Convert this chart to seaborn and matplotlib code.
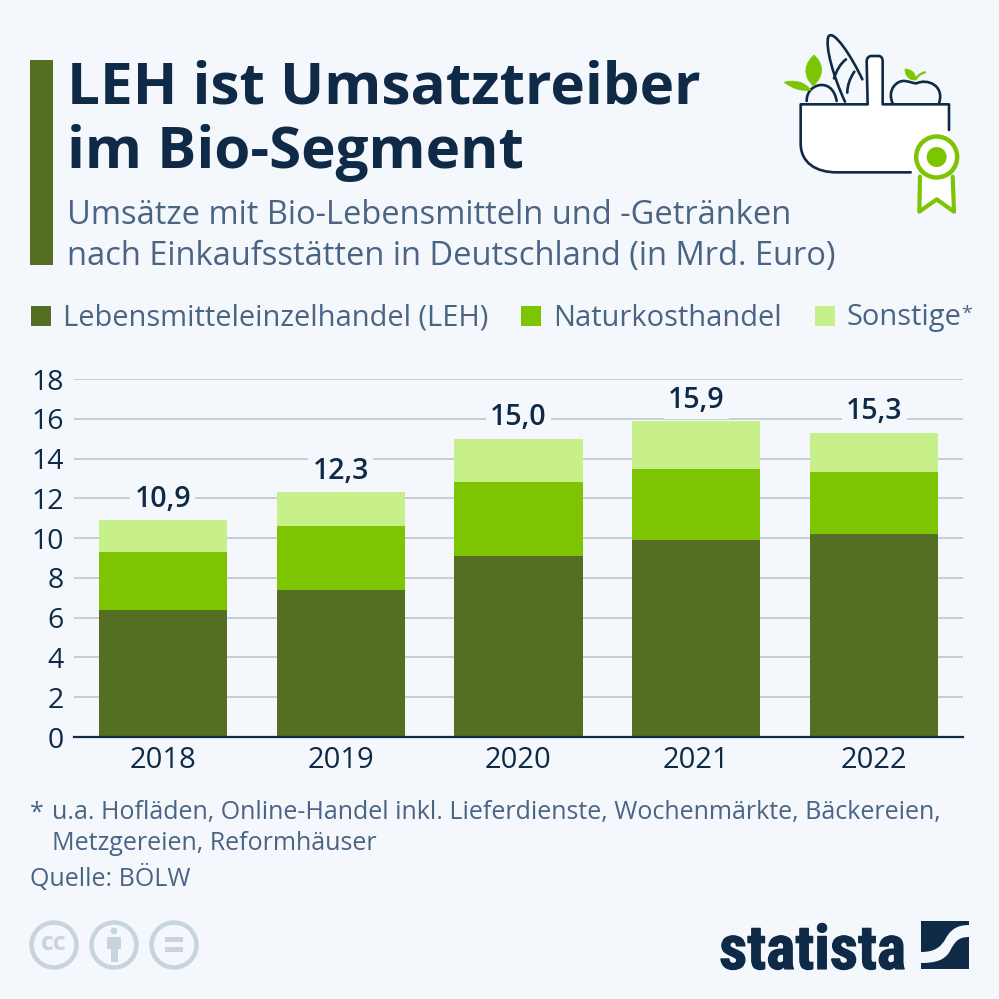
import numpy as np
import pandas as pd
import seaborn as sns
import matplotlib.pyplot as plt
import matplotlib.patheffects as pe
from matplotlib.patches import Circle, PathPatch, Rectangle
from matplotlib.path import Path

years = ["2018", "2019", "2020", "2021", "2022"]
leh = [6.4, 7.4, 9.1, 9.9, 10.2]
natur = [2.9, 3.2, 3.7, 3.6, 3.1]
sonstige = [1.6, 1.7, 2.2, 2.4, 2.0]
totals = [10.9, 12.3, 15.0, 15.9, 15.3]
total_labels = ["10,9", "12,3", "15,0", "15,9", "15,3"]
y_ticks = [0, 2, 4, 6, 8, 10, 12, 14, 16, 18]

BG = "#f4f7fb"
NAVY = "#0f2a47"
SLATE = "#4a6484"
DARK = "#546e24"
MID = "#7dc503"
LIGHT = "#c8f08a"
GRID = "#c6cdd5"
CCGREY = "#c8d4dc"

sns.set_theme(style="white")
plt.rcParams["font.family"] = ["Open Sans", "DejaVu Sans"]

fig = plt.figure(figsize=(9.99, 9.99), dpi=100, facecolor=BG)
ax = fig.add_axes([74 / 999, 1 - 737 / 999, 889 / 999, 358 / 999], facecolor=BG)

df = pd.DataFrame({"year": years, "leh": leh, "natur": natur, "sonstige": sonstige})
bottom = np.zeros(len(df))
for col, colour in [("leh", DARK), ("natur", MID), ("sonstige", LIGHT)]:
    sns.barplot(data=df, x="year", y=col, bottom=bottom, color=colour, width=0.72,
                saturation=1, linewidth=0, edgecolor="none", ax=ax, zorder=3)
    bottom = bottom + df[col].values

ax.set_xlim(-0.5, 4.5)
ax.set_ylim(0, 18)
ax.set_yticks(y_ticks)
ax.set_xlabel("")
ax.set_ylabel("")
ax.grid(axis="y", color=GRID, lw=1.4, zorder=0)
ax.set_axisbelow(True)
sns.despine(ax=ax, left=True, top=True, right=True)
ax.spines["bottom"].set_color(NAVY)
ax.spines["bottom"].set_linewidth(1.6)
ax.spines["bottom"].set_zorder(5)
ax.tick_params(axis="x", length=0, pad=6.5, labelsize=21, labelcolor=NAVY)
ax.tick_params(axis="y", length=0, pad=7.5, labelsize=20.5, labelcolor=NAVY)

# label boxes sit under the bars, they only have to break the grid lines
for i, (t, s) in enumerate(zip(totals, total_labels)):
    ax.annotate(s, (i, t), xytext=(0, 4.5), textcoords="offset points", ha="center", va="bottom",
                fontsize=20.5, fontweight="semibold", color=NAVY, zorder=2,
                bbox=dict(fc=BG, ec="none", pad=3))

# everything around the chart in pixel coordinates
ov = fig.add_axes([0, 0, 1, 1], zorder=10)
ov.set_xlim(0, 999)
ov.set_ylim(999, 0)
ov.axis("off")
ov.patch.set_alpha(0)

ov.add_patch(Rectangle((30, 60), 23, 205, fc=DARK, ec="none"))
ov.text(67, 88, "LEH ist Umsatztreiber", fontsize=42, fontweight="bold", color=NAVY, va="center")
ov.text(67, 153, "im Bio-Segment", fontsize=42, fontweight="bold", color=NAVY, va="center")
ov.text(67, 215.5, "Umsätze mit Bio-Lebensmitteln und -Getränken", fontsize=23.5, color=SLATE, va="center")
ov.text(67, 256.5, "nach Einkaufsstätten in Deutschland (in Mrd. Euro)", fontsize=23.5, color=SLATE, va="center")

# legend
for x, colour, label in [(31, DARK, "Lebensmitteleinzelhandel (LEH)"),
                         (521, MID, "Naturkosthandel"),
                         (815, LIGHT, "Sonstige")]:
    ov.add_patch(Rectangle((x, 306), 20, 20, fc=colour, ec="none"))
    ov.text(x + 32, 318, label, fontsize=20.9, color=SLATE, va="center")
ov.text(961, 314, "*", fontsize=14, color=SLATE, va="center")

# footnotes
ov.text(30, 813, "*", fontsize=18, color=SLATE, va="center")
ov.text(52, 813, "u.a. Hofläden, Online-Handel inkl. Lieferdienste, Wochenmärkte, Bäckereien,",
        fontsize=18, color=SLATE, va="center")
ov.text(52, 844, "Metzgereien, Reformhäuser", fontsize=18, color=SLATE, va="center")
ov.text(30, 878, "Quelle: BÖLW", fontsize=18, color=SLATE, va="center")


# basket icon, points taken from a 3x crop starting at (770, 20)
def z(x, y):
    return 770 + x / 3, 20 + y / 3


def curve(points, codes, fc="none", ec=NAVY, lw=1.9):
    path = Path([z(*p) for p in points], codes)
    ov.add_patch(PathPatch(path, fc=fc, ec=ec, lw=lw, capstyle="round", joinstyle="round"))


M, L, C = Path.MOVETO, Path.LINETO, Path.CURVE4
# white body first, then its outline
curve([(537, 253), (92, 253), (92, 370), (92, 430), (140, 457), (200, 457), (537, 457), (537, 253)],
      [M, L, L, C, C, C, L, L], fc="white", ec="none", lw=0)
curve([(290, 253), (290, 125), (290, 112), (298, 108), (305, 108), (325, 108),
       (332, 108), (338, 112), (338, 125), (338, 253)],
      [M, L, C, C, C, L, C, C, C, L], fc="white", ec="none", lw=0)
curve([(537, 330), (537, 253), (338, 253), (338, 125), (338, 112), (332, 108), (325, 108), (305, 108),
       (298, 108), (290, 112), (290, 125), (293, 253), (92, 253), (92, 370), (92, 430), (140, 457),
       (200, 457), (422, 457)],
      [M, L, L, L, C, C, C, L, C, C, C, L, L, L, C, C, C, L])
# bun
curve([(110, 243), (110, 210), (135, 195), (155, 195), (180, 195), (195, 215), (200, 243)],
      [M, C, C, C, C, C, C])
# baguette
curve([(225, 245), (190, 170), (165, 80), (175, 50), (190, 25), (245, 110), (277, 178)],
      [M, C, C, C, C, C, C])
curve([(192, 175), (200, 150), (212, 130), (228, 118)], [M, C, C, C])
curve([(232, 218), (232, 195), (240, 175), (253, 155)], [M, C, C, C])
# apple
curve([(368, 250), (350, 210), (380, 180), (405, 183), (420, 185), (430, 190), (440, 190),
       (470, 175), (525, 195), (507, 250)],
      [M, C, C, C, C, C, C, C, C, C])
# leaves
curve([(130, 198), (95, 165), (105, 130), (132, 105), (160, 130), (165, 165), (130, 198)],
      [M, C, C, C, C, C, C], fc=MID, ec=MID, lw=0.5)
curve([(122, 210), (95, 215), (65, 205), (43, 187), (70, 178), (105, 185), (122, 210)],
      [M, C, C, C, C, C, C], fc=MID, ec=MID, lw=0.5)
curve([(435, 180), (415, 180), (405, 165), (405, 147), (425, 148), (440, 160), (435, 180)],
      [M, C, C, C, C, C, C], fc=MID, ec=MID, lw=0.5)
curve([(437, 178), (442, 168), (452, 160), (465, 157)], [M, C, C, C], ec=MID, lw=1.6)
# ribbon and rosette
curve([(450, 470), (448, 575), (500, 538), (552, 575), (548, 470)], [M, L, L, L, L],
      fc="white", ec=MID, lw=3)
cx, cy = z(500, 411)
ov.add_patch(Circle((cx, cy), 20.5, fc="white", ec=MID, lw=3.2))
ov.add_patch(Circle((cx, cy), 10, fc=MID, ec="none"))

# licence icons
for x in [54, 114, 174]:
    ov.add_patch(Circle((x, 945), 22.5, fc="none", ec=CCGREY, lw=3.2))
ov.text(54, 944, "cc", fontsize=18, fontweight="bold", color=CCGREY, ha="center", va="center")
ov.add_patch(Circle((114, 931), 3.4, fc=CCGREY, ec="none"))
ov.add_patch(Rectangle((107, 937), 14, 12, fc=CCGREY, ec="none"))
ov.add_patch(Rectangle((110.5, 949), 7, 13, fc=CCGREY, ec="none"))
ov.add_patch(Rectangle((165, 937), 18, 5, fc=CCGREY, ec="none"))
ov.add_patch(Rectangle((165, 947), 18, 5, fc=CCGREY, ec="none"))

# statista logo
logo = ov.text(906, 969, "statista", fontsize=44.5, fontweight="bold", color=NAVY, ha="right", va="baseline",
               family=["Roboto Condensed", "Fjalla One", "Liberation Sans"])
logo.set_path_effects([pe.withStroke(linewidth=0.8, foreground=NAVY)])
ov.add_patch(Rectangle((921, 921), 48, 48, fc=NAVY, ec="none"))
band = Path([(921, 952), (935, 952), (941, 947), (946, 938), (951, 929), (958, 925), (969, 925),
             (969, 937), (959, 937), (955, 941), (950, 951), (945, 960), (936, 963), (921, 963), (921, 952)],
            [M, C, C, C, C, C, C, L, C, C, C, C, C, C, L])
ov.add_patch(PathPatch(band, fc=BG, ec="none"))

fig.savefig("out.png", dpi=100, facecolor=BG)
